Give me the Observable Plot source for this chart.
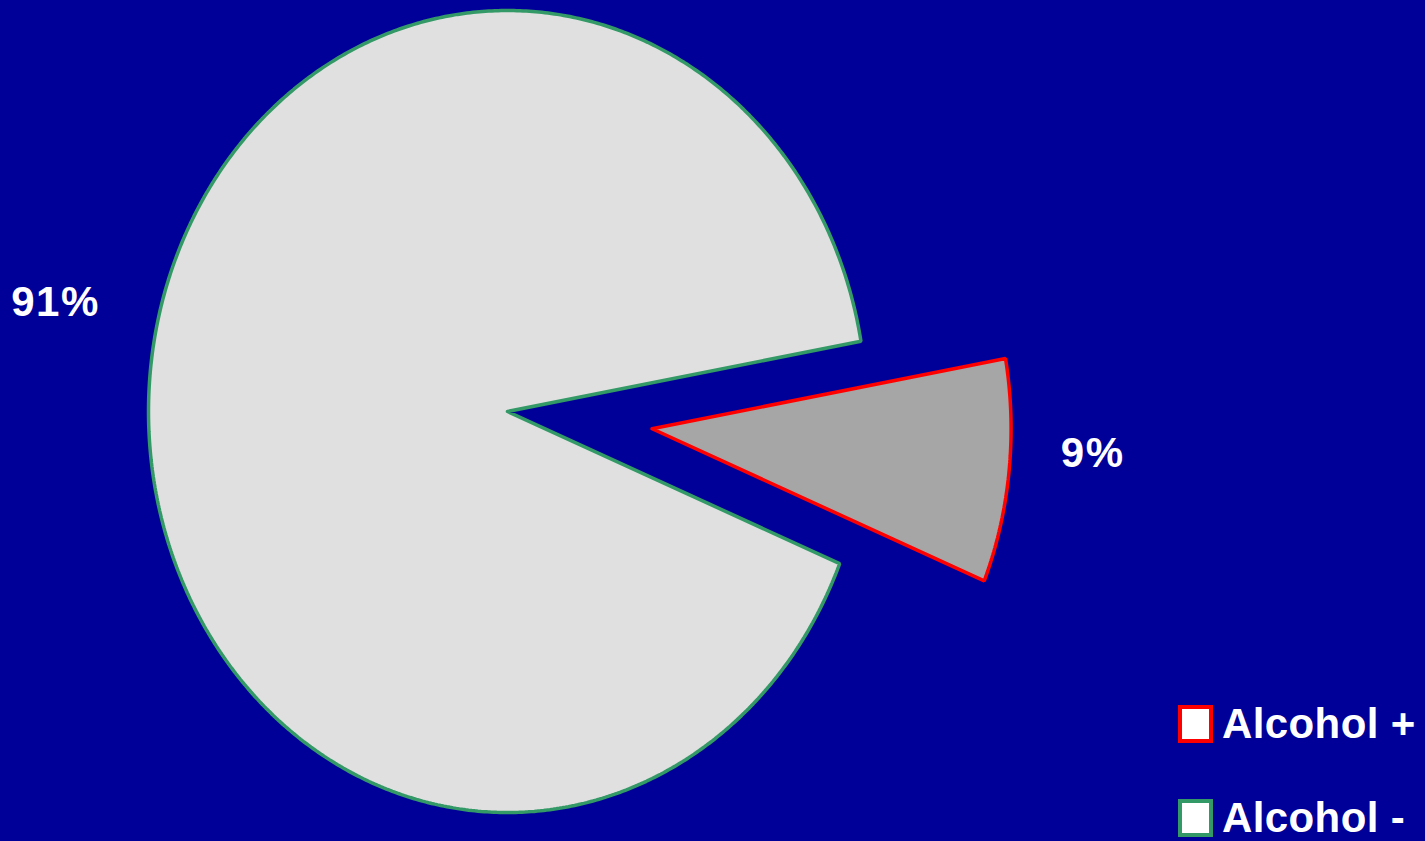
<!DOCTYPE html>
<html>
<head>
<meta charset="utf-8">
<script src="https://cdn.jsdelivr.net/npm/d3@7"></script>
<script src="https://cdn.jsdelivr.net/npm/@observablehq/plot@0.6"></script>
<style>
  html, body { margin: 0; padding: 0; background: #000099; overflow: hidden; }
  #wrap { position: relative; width: 1425px; height: 841px; }
  .legend { position: absolute; left: 1178px; font-family: "Liberation Sans", Arial, sans-serif; font-weight: bold; font-size: 42px; letter-spacing: 0.4px; color: #ffffff; display: flex; align-items: center; white-space: nowrap; }
  .legend .box { width: 27px; height: 30px; background: #ffffff; border: 4px solid; margin-right: 9px; }
  svg text { letter-spacing: 1.5px; }
</style>
</head>
<body>
<div id="wrap"></div>
<script>
// ---- data ----
const categories = ["Alcohol +", "Alcohol -"];
const shares = [9, 91];
const labels = ["9%", "91%"];
const exploded = [true, false];

// ---- styling ----
const fills = ["#a6a6a6", "#e0e0e0"];
const strokes = ["#ff0000", "#339966"];
const startAngleDeg = -22.3;   // where the first slice begins (counter-clockwise, degrees)
const explodeDist = 0.405;

// build slice polygons in unit-circle coordinates
const total = d3.sum(shares);
const rad = Math.PI / 180;
const polys = [];
const labelRows = [];
let a = startAngleDeg * rad;
categories.forEach((c, i) => {
  const span = shares[i] / total * 2 * Math.PI;
  const a0 = a, a1 = a + span, mid = (a0 + a1) / 2;
  const ox = exploded[i] ? explodeDist * Math.cos(mid) : 0;
  const oy = exploded[i] ? explodeDist * Math.sin(mid) : 0;
  polys.push({cat: c, x: ox, y: oy, i});
  const n = Math.max(8, Math.ceil(span / rad / 0.5));
  for (let k = 0; k <= n; k++) {
    const t = a0 + span * k / n;
    polys.push({cat: c, x: ox + Math.cos(t), y: oy + Math.sin(t), i});
  }
  polys.push({cat: c, x: ox, y: oy, i});
  const lr = 1.145;
  labelRows.push({cat: c, label: labels[i], x: ox + lr * Math.cos(mid), y: oy + lr * Math.sin(mid), i,
                  anchor: Math.cos(mid) >= 0 ? "start" : "end"});
  a = a1;
});

const font = '"Liberation Sans", Arial, sans-serif';
const chart = Plot.plot({
  width: 1425,
  height: 841,
  margin: 0,
  x: {domain: [-1, 1], range: [148, 866], axis: null},
  y: {domain: [-1, 1], range: [812, 10], axis: null},
  style: {background: "transparent", fontFamily: font, overflow: "visible"},
  marks: [
    Plot.line(polys, {
      x: "x", y: "y", z: "cat", curve: "linear",
      fill: d => fills[d.i], stroke: d => strokes[d.i],
      strokeWidth: 3.5, strokeLinejoin: "miter"
    }),
    Plot.text(labelRows.filter(d => d.anchor === "start"), {
      x: "x", y: "y", text: "label", textAnchor: "start", dy: -24,
      fill: "white", fontSize: 42, fontWeight: "bold"
    }),
    Plot.text(labelRows.filter(d => d.anchor === "end"), {
      x: "x", y: "y", text: "label", textAnchor: "end", dy: -60, dx: 1,
      fill: "white", fontSize: 42, fontWeight: "bold"
    })
  ]
});
const wrap = document.getElementById("wrap");
wrap.appendChild(chart);

// legend
categories.forEach((c, i) => {
  const row = document.createElement("div");
  row.className = "legend";
  row.style.top = (700 + i * 94) + "px";
  const box = document.createElement("div");
  box.className = "box";
  box.style.borderColor = strokes[i];
  const txt = document.createElement("span");
  txt.textContent = c;
  row.appendChild(box);
  row.appendChild(txt);
  wrap.appendChild(row);
});
</script>
</body>
</html>
